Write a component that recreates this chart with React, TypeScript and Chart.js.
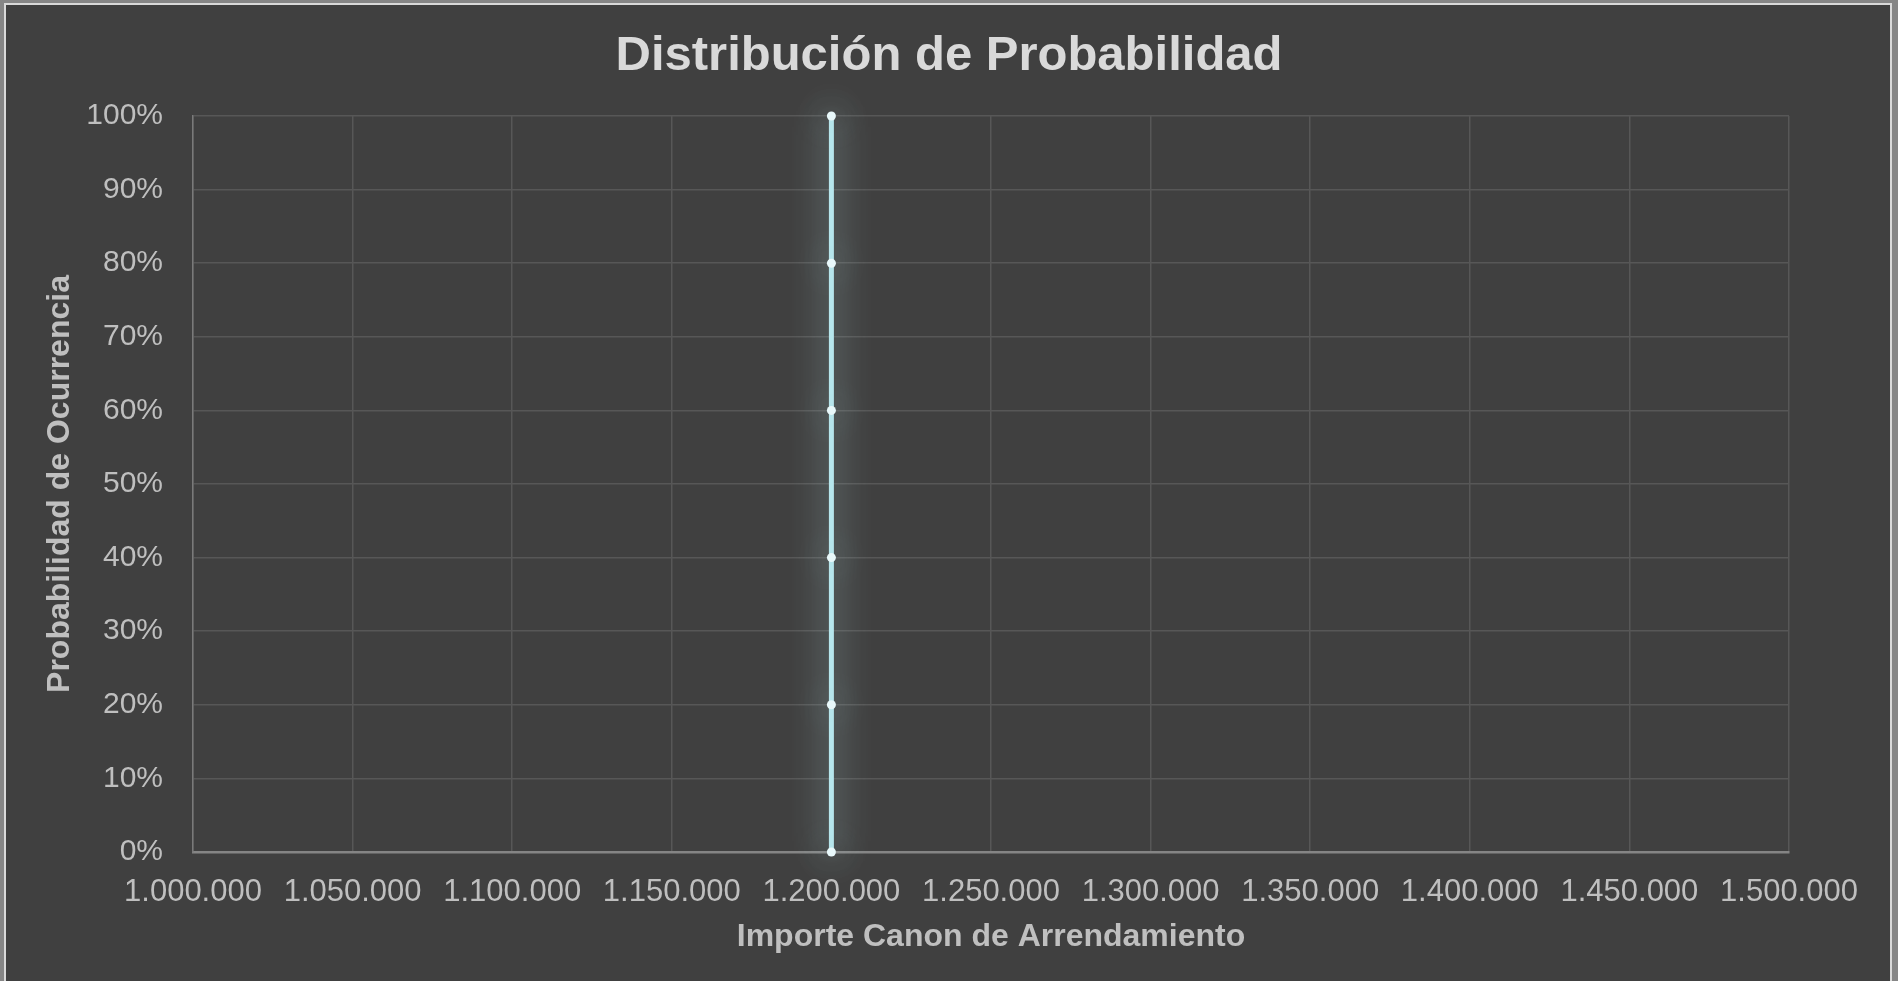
import React, { useEffect, useRef } from "react";
import { Chart, registerables } from "chart.js";

Chart.register(...registerables);

const chartTitle = "Distribución de Probabilidad";
const xAxisTitle = "Importe Canon de Arrendamiento";
const yAxisTitle = "Probabilidad de Ocurrencia";

const importeValues = [1200000, 1200000, 1200000, 1200000, 1200000, 1200000];
const probabilidadValues = [0, 0.2, 0.4, 0.6, 0.8, 1.0];

const xMin = 1000000;
const xMax = 1500000;
const xStep = 50000;
const yMin = 0;
const yMax = 1;
const yStep = 0.1;

const FONT = "'Liberation Sans', Arial, sans-serif";

const formatThousands = (v: number) =>
  String(Math.round(v)).replace(/\B(?=(\d{3})+(?!\d))/g, ".");

const glowPlugin = {
  id: "glow",
  beforeDatasetDraw(chart: any) {
    const ctx = chart.ctx;
    ctx.save();
    ctx.shadowColor = "rgba(195, 238, 242, 0.9)";
    ctx.shadowBlur = 34;
    ctx.shadowOffsetX = 0;
    ctx.shadowOffsetY = 0;
  },
  afterDatasetDraw(chart: any) {
    chart.ctx.restore();
  },
};

export default function App() {
  const canvasRef = useRef<HTMLCanvasElement | null>(null);

  useEffect(() => {
    if (!canvasRef.current) return;
    const points = importeValues.map((x, i) => ({ x, y: probabilidadValues[i] }));
    const chart = new Chart(canvasRef.current, {
      type: "scatter",
      data: {
        datasets: [
          {
            label: "Probabilidad",
            data: points,
            showLine: true,
            clip: false,
            borderColor: "#b6e6ec",
            borderWidth: 5,
            pointRadius: 4.5,
            pointBackgroundColor: "#e8f8fa",
            pointBorderColor: "#e8f8fa",
            pointBorderWidth: 0,
            tension: 0,
          },
        ],
      },
      plugins: [glowPlugin],
      options: {
        responsive: false,
        animation: false,
        events: [],
        layout: { padding: { left: 0, right: 0, top: 0, bottom: 0 } },
        plugins: {
          legend: { display: false },
          tooltip: { enabled: false },
          title: {
            display: true,
            text: chartTitle,
            color: "#d9d9d9",
            font: { family: FONT, size: 49, weight: "bold", lineHeight: 1.2 },
            padding: { top: 27, bottom: 30.2 },
          },
        },
        scales: {
          x: {
            type: "linear",
            min: xMin,
            max: xMax,
            afterFit: (s: any) => {
              s.height = 129;
            },
            afterBuildTicks: (s: any) => {
              const t = [];
              for (let v = xMin; v <= xMax; v += xStep) t.push({ value: v });
              s.ticks = t;
            },
            ticks: {
              color: "#bfbfbf",
              font: { family: FONT, size: 31 },
              padding: 22,
              maxRotation: 0,
              autoSkip: false,
              callback: (v: any) => formatThousands(Number(v)),
            },
            grid: { color: "#575757", lineWidth: 1.5, drawTicks: false },
            border: { color: "#858585", width: 2.5 },
            title: {
              display: true,
              text: xAxisTitle,
              color: "#bfbfbf",
              font: { family: FONT, size: 32, weight: "bold", lineHeight: 1.2 },
              padding: { top: 0, bottom: 25 },
            },
          },
          y: {
            type: "linear",
            min: yMin,
            max: yMax,
            afterFit: (s: any) => {
              s.width = 193;
            },
            ticks: {
              stepSize: yStep,
              color: "#bfbfbf",
              font: { family: FONT, size: 30 },
              padding: 30,
              autoSkip: false,
              callback: (v: any) => Math.round(Number(v) * 100) + "%",
            },
            grid: { color: "#575757", lineWidth: 1.5, drawTicks: false },
            border: { color: "#7a7a7a", width: 1.5 },
            title: {
              display: true,
              text: yAxisTitle,
              color: "#bfbfbf",
              font: { family: FONT, size: 32, weight: "bold", lineHeight: 1.2 },
              padding: { top: 41, bottom: 0 },
            },
          },
          rightSpace: {
            type: "linear",
            position: "right",
            min: yMin,
            max: yMax,
            afterFit: (s: any) => {
              s.width = 109;
            },
            ticks: { display: false },
            grid: { display: false },
            border: { display: false },
            title: { display: false },
          },
        },
      },
    } as any);
    return () => chart.destroy();
  }, []);

  return (
    <div
      style={{
        position: "fixed",
        left: 0,
        top: 0,
        width: 1898,
        height: 981,
        background: "#868686",
        overflow: "hidden",
      }}
    >
      <div
        style={{
          position: "absolute",
          left: 4,
          top: 3,
          width: 1888,
          height: 1010,
          boxSizing: "border-box",
          border: "2px solid #d9d9d9",
          background: "#404040",
        }}
      />
      <canvas
        ref={canvasRef}
        width={1898}
        height={981}
        style={{ position: "absolute", left: 0, top: 0, width: 1898, height: 981 }}
      />
    </div>
  );
}
